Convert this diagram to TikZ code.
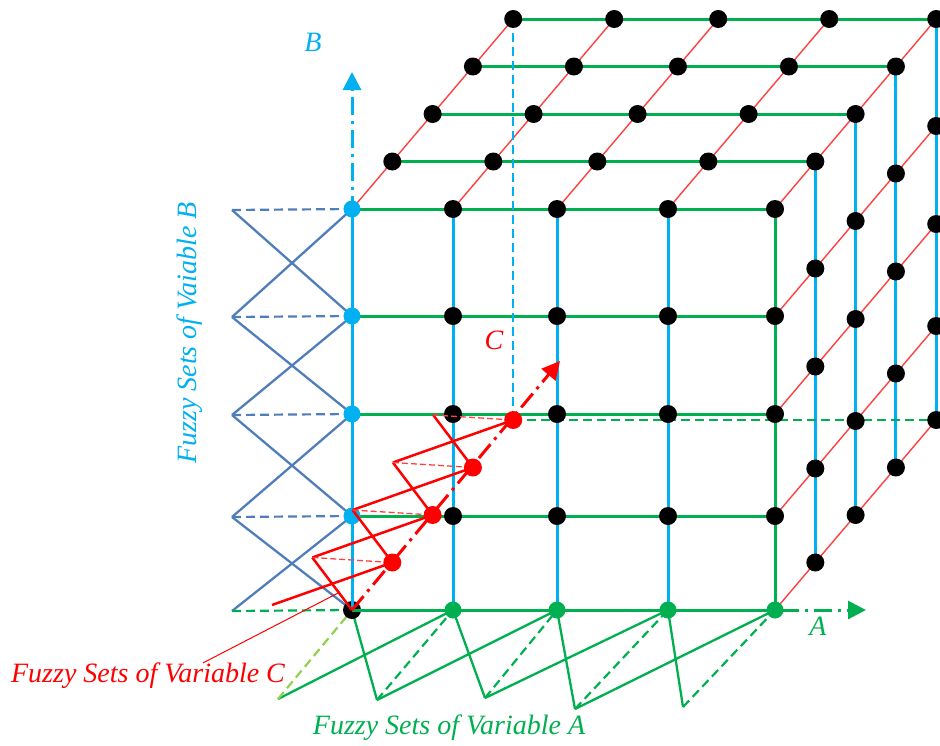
\documentclass[tikz,border=0pt]{standalone}
\usepackage{fontspec}
\setmainfont{Liberation Serif}
\usetikzlibrary{arrows.meta,calc}
\definecolor{gridGreen}{HTML}{00B050}
\definecolor{axisCyan}{HTML}{00B0F0}
\definecolor{setRed}{HTML}{FF0000}
\definecolor{depthRed}{HTML}{FF4040}
\definecolor{setBlue}{HTML}{4F7EBB}
\definecolor{lightGreen}{HTML}{92D050}

\begin{document}
\begin{tikzpicture}[x=1pt,y=-1pt,
    dot/.style={circle,fill=black,inner sep=0pt,minimum size=18pt},
    lbl/.style={font=\fontsize{28}{32}\selectfont\itshape,inner sep=0pt},
    axisline/.style={line width=3pt,dash pattern=on 18pt off 6pt on 3pt off 6pt,-{Triangle[length=18pt,width=18pt]}},
    hidden/.style={line width=2.2pt,dash pattern=on 9pt off 5pt}]
  \useasboundingbox (0,0) rectangle (940,745);
  % lattice points p-column-row-depth
  \foreach \x [count=\i from 0] in {352,453,557,668,775}
    \foreach \y [count=\j from 0] in {610,516,414,316,209}
      \foreach \d in {0,...,4}
        \coordinate (p-\i-\j-\d) at (\x+40.3*\d,\y-47.5*\d);

  % front face
  \foreach \j in {0,...,4}
    \draw[gridGreen,line width=3pt] (p-0-\j-0) -- (p-4-\j-0);
  \foreach \i in {0,...,3}
    \draw[axisCyan,line width=3pt] (p-\i-0-0) -- (p-\i-4-0);
  \draw[gridGreen,line width=3pt] (p-4-0-0) -- (p-4-4-0);
  % top face
  \foreach \d in {1,...,4}
    \draw[gridGreen,line width=3pt] (p-0-4-\d) -- (p-4-4-\d);
  \foreach \i in {0,...,4}
    \draw[depthRed,line width=1.4pt] (p-\i-4-0) -- (p-\i-4-4);
  % right face
  \foreach \d in {1,...,4}
    \draw[axisCyan,line width=3pt] (p-4-0-\d) -- (p-4-4-\d);
  \foreach \j in {0,...,3}
    \draw[depthRed,line width=1.4pt] (p-4-\j-0) -- (p-4-\j-4);
  % hidden edges
  \draw[axisCyan,hidden] (p-0-0-4) -- (p-0-4-4);
  \draw[gridGreen,hidden] (p-0-0-4) -- (p-4-0-4);

  % fuzzy sets of B
  \foreach \j in {0,...,4}
    \coordinate (qB-\j) at ($(p-0-\j-0)+(-120,1)$);
  \foreach \j/\k in {0/1,1/2,2/3,3/4} {
    \draw[setBlue,line width=2.3pt] (qB-\j) -- (p-0-\k-0);
    \draw[setBlue,line width=2.3pt] (qB-\k) -- (p-0-\j-0);
  }
  \foreach \j in {1,...,4}
    \draw[setBlue,hidden] (qB-\j) -- (p-0-\j-0);
  \draw[gridGreen,hidden] (qB-0) -- (p-0-0-0);

  % fuzzy sets of A
  \foreach \px/\py [count=\i from 0] in {278/699,377/700,485/698,575/709,683/707}
    \coordinate (qA-\i) at (\px,\py);
  \foreach \i/\k in {0/1,1/2,2/3,3/4} {
    \draw[gridGreen,line width=2.3pt] (qA-\i) -- (p-\k-0-0);
    \draw[gridGreen,line width=2.3pt] (qA-\k) -- (p-\i-0-0);
  }
  \foreach \i in {1,...,4}
    \draw[gridGreen,hidden] (qA-\i) -- (p-\i-0-0);
  \draw[lightGreen,hidden] (qA-0) -- (p-0-0-0);

  % grid dots
  \foreach \i in {1,...,4}
    \foreach \j in {1,...,4}
      \node[dot] (n-\i-\j-0) at (p-\i-\j-0) {};
  \foreach \j in {1,...,4}
    \node[dot,fill=axisCyan,minimum size=17pt] (n-0-\j-0) at (p-0-\j-0) {};
  \node[dot] (n-0-0-0) at (p-0-0-0) {};
  \foreach \i in {1,...,4}
    \node[dot,fill=gridGreen,minimum size=17pt] (n-\i-0-0) at (p-\i-0-0) {};
  \foreach \i in {0,...,4}
    \foreach \d in {1,...,4}
      \node[dot] (n-\i-4-\d) at (p-\i-4-\d) {};
  \foreach \j in {0,...,3}
    \foreach \d in {1,...,4}
      \node[dot] (n-4-\j-\d) at (p-4-\j-\d) {};

  % axes
  \coordinate (tipB) at (352,72);
  \coordinate (tipA) at (866,610);
  \coordinate (tipC) at (560,361);
  \draw[axisline,axisCyan] (p-0-0-0) -- (tipB);
  \draw[axisline,gridGreen] (p-0-0-0) -- (tipA);

  % fuzzy sets of C
  \foreach \d in {0,...,4}
    \coordinate (qC-\d) at ($(p-0-0-\d)+(-80,-5)$);
  \foreach \d/\k in {0/1,1/2,2/3,3/4} {
    \draw[setRed,line width=2.5pt] (qC-\d) -- (p-0-0-\k);
    \draw[setRed,line width=2.5pt] (qC-\k) -- (p-0-0-\d);
  }
  \foreach \d in {1,...,4}
    \draw[depthRed,line width=1.3pt,dash pattern=on 6pt off 3pt] (qC-\d) -- (p-0-0-\d);
  \draw[axisline,setRed] (p-0-0-0) -- (tipC);
  \foreach \d in {1,...,4}
    \node[dot,fill=setRed] (c-\d) at (p-0-0-\d) {};

  % labels
  \node[lbl,text=axisCyan] (labB) at (313,42) {B};
  \node[lbl,text=setRed] (labC) at (494,340) {C};
  \node[lbl,text=gridGreen] (labA) at (818,626) {A};
  \node[lbl,text=setRed] (fsC) at (148,676) {Fuzzy Sets of Variable C};
  \node[lbl,text=gridGreen] (fsA) at (449,728) {Fuzzy Sets of Variable A};
  \node[lbl,text=axisCyan,rotate=90] (fsB) at (190,333) {Fuzzy Sets of Vaiable B};
  \coordinate (leadC) at (340,592);
  \draw[setRed,line width=1pt] ([xshift=55pt]fsC.north) -- (leadC);
\end{tikzpicture}
\end{document}
